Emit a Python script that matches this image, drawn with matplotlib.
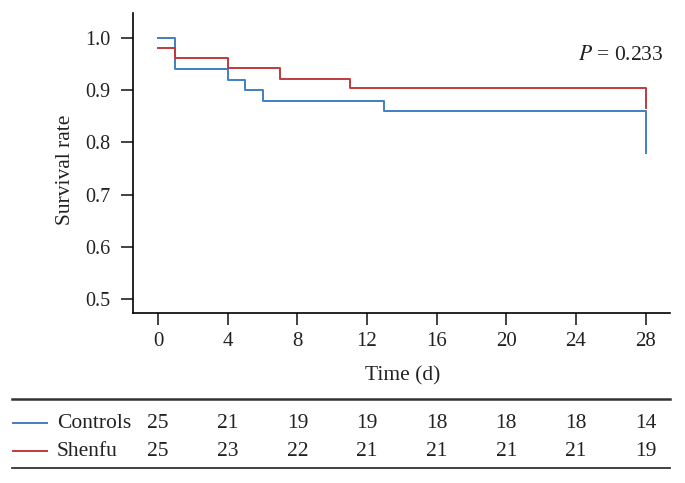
import matplotlib
matplotlib.use("Agg")
import matplotlib.pyplot as plt
from matplotlib.lines import Line2D
from matplotlib.transforms import blended_transform_factory

plt.rcParams["font.family"] = ["Liberation Serif", "DejaVu Serif"]

# Kaplan-Meier step data (time of change, survival after change)
ctrl_t = [0, 1, 4, 5, 6, 13, 28]
ctrl_s = [1.0, 0.94, 0.92, 0.90, 0.88, 0.86, 0.78]
shen_t = [0, 1, 4, 7, 11, 28]
shen_s = [0.98, 0.962, 0.942, 0.922, 0.904, 0.866]

# number at risk table
risk_times = [0, 4, 8, 12, 16, 20, 24, 28]
ctrl_risk = [25, 21, 19, 19, 18, 18, 18, 14]
shen_risk = [25, 23, 22, 21, 21, 21, 21, 19]

groups = ["Controls", "Shenfu"]
BLUE = "#3f80c2"
RED = "#c0393c"
INK = "#222222"

W, H = 685, 483
fig = plt.figure(figsize=(6.85, 4.83), dpi=100)
ax = fig.add_axes([133 / W, 1 - 313 / H, (670 - 133) / W, 300 / H])


def km_steps(t, s):
    xs, ys = [t[0]], [s[0]]
    for i in range(1, len(t)):
        xs += [t[i], t[i]]
        ys += [s[i - 1], s[i]]
    return xs, ys


x, y = km_steps(ctrl_t, ctrl_s)
ax.plot(x, y, color=BLUE, lw=1.4)
x, y = km_steps(shen_t, shen_s)
ax.plot(x, y, color=RED, lw=1.4)

ax.set_xlim(-1.44, 29.4)
ax.set_ylim(0.473, 1.048)
ax.set_xticks(risk_times)
ax.set_yticks([0.5, 0.6, 0.7, 0.8, 0.9, 1.0])
ax.set_yticklabels(["0.5", "0.6", "0.7", "0.8", "0.9", "1.0"])
for s in ["top", "right"]:
    ax.spines[s].set_visible(False)
for s in ["left", "bottom"]:
    ax.spines[s].set_linewidth(1.2)
ax.tick_params(axis="both", length=8.5, width=1.2, colors=INK)
ax.tick_params(axis="y", labelsize=14.5, pad=8)
ax.tick_params(axis="x", labelsize=15, pad=5)

ax.set_ylabel("Survival rate", fontsize=15.5, color=INK)
ax.yaxis.label.set_va("center")
ax.yaxis.set_label_coords(66 / W, 1 - 170 / H, transform=fig.transFigure)
ax.set_xlabel("Time (d)", fontsize=15.5, color=INK)
ax.xaxis.label.set_va("center")
ax.xaxis.set_label_coords(403 / W, 1 - 376 / H, transform=fig.transFigure)

ax.text(29.0, 0.967, "$\\mathit{P}$ = 0.233", fontsize=15.5, ha="right", va="center",
        color=INK, math_fontfamily="stix")

# at-risk table
fig.add_artist(Line2D([12 / W, 670 / W], [1 - 399 / H] * 2, color="#333333", lw=1.8))
fig.add_artist(Line2D([12 / W, 670 / W], [1 - 468 / H] * 2, color="#333333", lw=1.3))
trans = blended_transform_factory(ax.transData, fig.transFigure)
rows_y = [1 - 423 / H, 1 - 451 / H]
for name, col, vals, yy in zip(groups, [BLUE, RED], [ctrl_risk, shen_risk], rows_y):
    fig.add_artist(Line2D([13 / W, 47 / W], [yy, yy], color=col, lw=1.4))
    fig.text(57 / W, yy, name, fontsize=15.5, ha="left", va="center", color=INK)
    for t, v in zip(risk_times, vals):
        ax.text(t, yy, str(v), transform=trans, fontsize=15.5, ha="center", va="center",
                color=INK)

fig.savefig("out.png", dpi=100)
